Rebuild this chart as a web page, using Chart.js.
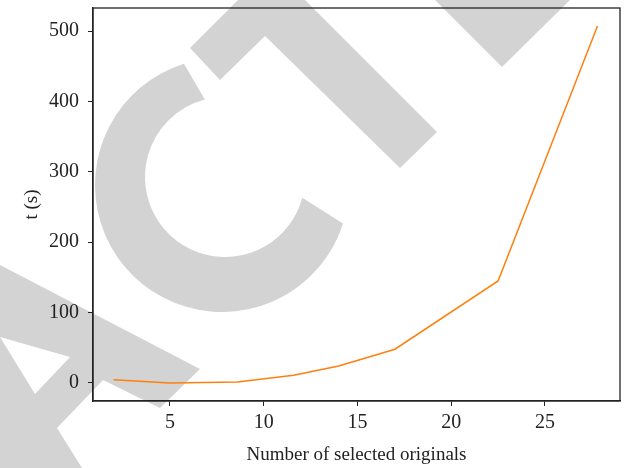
<!DOCTYPE html>
<html>
<head>
<meta charset="utf-8">
<script src="https://cdn.jsdelivr.net/npm/chart.js@4"></script>
<style>
  body { margin: 0; background: #fff; }
  #wrap { width: 625px; height: 468px; position: relative; }
</style>
</head>
<body>
<div id="wrap"><canvas id="timeChart"></canvas></div>
<script>
// values
const nSelected = [2, 5, 8.6, 11.6, 14, 17, 22.5, 27.8];
const timeSec = [4.5, 0, 1.5, 11, 24, 48, 145, 507];
const xTicks = [5, 10, 15, 20, 25];
const yTicks = [0, 100, 200, 300, 400, 500];

const FONT = "'Liberation Serif', 'Times New Roman', serif";
const INK = "#222";

// grey "retracted" stamp behind the plot
const stampPlugin = {
  id: "stamp",
  beforeDraw(chart) {
    const c = chart.ctx;
    const d = Math.PI / 180;
    c.save();
    c.fillStyle = "rgb(211,211,211)";
    // A
    c.beginPath();
    c.moveTo(0, 265); c.lineTo(200, 369); c.lineTo(160, 408); c.lineTo(103, 380);
    c.lineTo(57, 428); c.lineTo(82, 468); c.lineTo(0, 468); c.closePath();
    c.moveTo(0, 337); c.lineTo(35, 394); c.lineTo(70, 357); c.closePath();
    c.fill("evenodd");
    // C
    c.beginPath();
    c.arc(222, 185, 127, 252.6 * d, 17.7 * d, true);
    c.arc(225, 177, 80, 15 * d, 255.4 * d, false);
    c.closePath();
    c.fill();
    // T
    c.beginPath();
    c.moveTo(238, 0); c.lineTo(305, 0); c.lineTo(437, 132); c.lineTo(400, 168);
    c.lineTo(265, 36); c.lineTo(220, 80); c.lineTo(190, 48); c.closePath();
    c.fill();
    // next letter, cut by the top edge
    c.beginPath();
    c.moveTo(435, 0); c.lineTo(502, 67); c.lineTo(570, 0); c.closePath();
    c.fill();
    c.restore();
  },
  afterDraw(chart) {
    const a = chart.chartArea;
    const c = chart.ctx;
    c.save();
    c.strokeStyle = INK;
    c.lineWidth = 1.3;
    c.strokeRect(a.left, a.top, a.right - a.left, a.bottom - a.top);
    c.restore();
  }
};

const ctx = document.getElementById("timeChart").getContext("2d");

new Chart(ctx, {
  type: "line",
  data: {
    datasets: [
      {
        data: nSelected.map((x, i) => ({ x: x, y: timeSec[i] })),
        borderColor: "#ff7f0e",
        borderWidth: 1.5,
        pointRadius: 0,
        tension: 0,
        fill: false,
      },
    ],
  },
  options: {
    responsive: true,
    maintainAspectRatio: false,
    animation: false,
    layout: { padding: { top: 8, right: 5, left: 0, bottom: 0 } },
    plugins: {
      legend: { display: false },
      tooltip: { enabled: false },
    },
    scales: {
      x: {
        type: "linear",
        min: 0.9,
        max: 29,
        afterBuildTicks: (s) => { s.ticks = xTicks.map((v) => ({ value: v })); },
        afterFit: (s) => {
          s.height = 67;
          s.paddingLeft = 0;
          s.paddingRight = 0;
        },
        grid: { display: true, drawOnChartArea: false, tickLength: 5, color: INK },
        border: { display: true, color: INK, width: 1.3 },
        ticks: { color: INK, padding: 5, maxRotation: 0, font: { family: FONT, size: 20 } },
        title: {
          display: true,
          text: "Number of selected originals",
          color: INK,
          padding: { top: 0, bottom: 2 },
          font: { family: FONT, size: 19 },
        },
      },
      y: {
        type: "linear",
        min: -25.6,
        max: 532.7,
        afterBuildTicks: (s) => { s.ticks = yTicks.map((v) => ({ value: v })); },
        afterFit: (s) => {
          s.width = 93;
          s.paddingTop = 0;
          s.paddingBottom = 0;
        },
        grid: { display: true, drawOnChartArea: false, tickLength: 5, color: INK },
        border: { display: true, color: INK, width: 1.3 },
        ticks: { color: INK, padding: 9, font: { family: FONT, size: 20 } },
        title: {
          display: true,
          text: "t (s)",
          color: INK,
          padding: { top: 21, bottom: 0 },
          font: { family: FONT, size: 19 },
        },
      },
    },
  },
  plugins: [stampPlugin],
});
</script>
</body>
</html>
